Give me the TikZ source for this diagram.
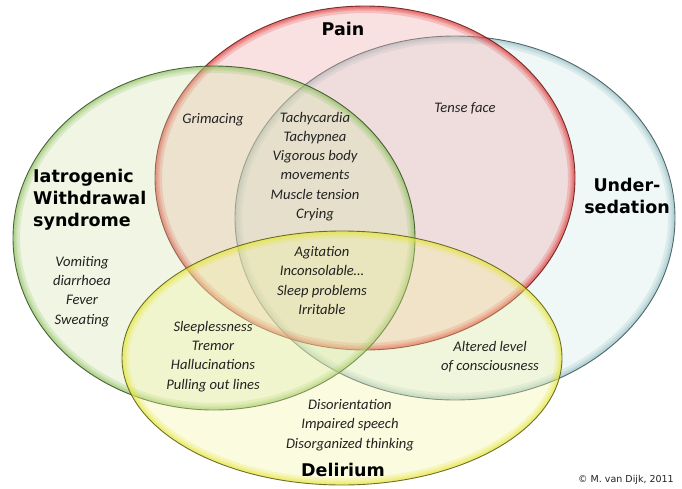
\documentclass[tikz,border=0pt]{standalone}
\usepackage{fontspec}
\setmainfont{Carlito}
\newfontfamily\titlefont{DejaVu Sans}
\definecolor{txt}{HTML}{222222}
\definecolor{painfill}{HTML}{F0A8A8}
\definecolor{painedge}{HTML}{E02828}
\definecolor{painline}{HTML}{5A1010}
\definecolor{undfill}{HTML}{CDE6E6}
\definecolor{undedge}{HTML}{8FBCC0}
\definecolor{undline}{HTML}{34494C}
\definecolor{witfill}{HTML}{D2E6A8}
\definecolor{witedge}{HTML}{86BE58}
\definecolor{witline}{HTML}{2C4418}
\definecolor{delfill}{HTML}{F4F4A0}
\definecolor{deledge}{HTML}{E6E628}
\definecolor{delline}{HTML}{4E4E10}
\tikzset{
  item/.style={align=center, text=txt, font=\itshape\fontsize{14.6}{19.3}\selectfont, inner sep=0pt},
  ttl/.style={align=center, text=black, font=\titlefont\bfseries\fontsize{17.5}{22}\selectfont, inner sep=0pt},
}
\newcommand{\vennset}[7]{%
  % #1 center, #2 rx, #3 ry, #4 fill, #5 edge, #6 outline, #7 fill opacity
  \fill[#4, fill opacity=#7] #1 ellipse [x radius=#2, y radius=#3];
  \begin{scope}
    \clip #1 ellipse [x radius=#2, y radius=#3];
    \foreach \w in {14,9,6,3.5} {
      \draw[#5, line width=\w pt, opacity=0.2] #1 ellipse [x radius=#2, y radius=#3];
    }
  \end{scope}
  \draw[#6, line width=0.9pt, opacity=0.8] #1 ellipse [x radius=#2, y radius=#3];
}
\begin{document}
\begin{tikzpicture}[x=1pt, y=-1pt]
\useasboundingbox (0,0) rectangle (682,488);
\fill[white] (0,0) rectangle (682,488);

\vennset{(455,218)}{220}{182}{undfill}{undedge}{undline}{0.3}
\vennset{(365,178)}{210}{172}{painfill}{painedge}{painline}{0.34}
\vennset{(214,238)}{201}{172}{witfill}{witedge}{witline}{0.32}
\vennset{(342,358)}{220}{127}{delfill}{deledge}{delline}{0.32}

% titles
\node[ttl] (pain) at (343,29) {Pain};
\node[ttl] (under) at (627,196) {Under-\\sedation};
\node[ttl, align=left, anchor=west] (iws) at (33,200) {Iatrogenic\\Withdrawal\\syndrome};
\node[ttl] (delirium) at (343,470) {Delirium};

% items
\node[item] (grim) at (213,120) {Grimacing};
\node[item] (tense) at (465,108) {Tense face};
\node[item] (tachy) at (315,166.5) {Tachycardia\\Tachypnea\\Vigorous body\\movements\\Muscle tension\\Crying};
\node[item] (agit) at (322,280.5) {Agitation\\Inconsolable…\\Sleep problems\\Irritable};
\node[item] (vomit) at (82,291.5) {Vomiting\\diarrhoea\\Fever\\Sweating};
\node[item] (sleepl) at (213,356.5) {Sleeplessness\\Tremor\\Hallucinations\\Pulling out lines};
\node[item] (alter) at (490,356.5) {Altered level\\of consciousness};
\node[item] (disor) at (350,425) {Disorientation\\Impaired speech\\Disorganized thinking};

\node[text=txt, font=\titlefont\fontsize{9.5}{11}\selectfont, inner sep=0pt] (copy) at (626,480) {© M. van Dijk, 2011};
\end{tikzpicture}
\end{document}
